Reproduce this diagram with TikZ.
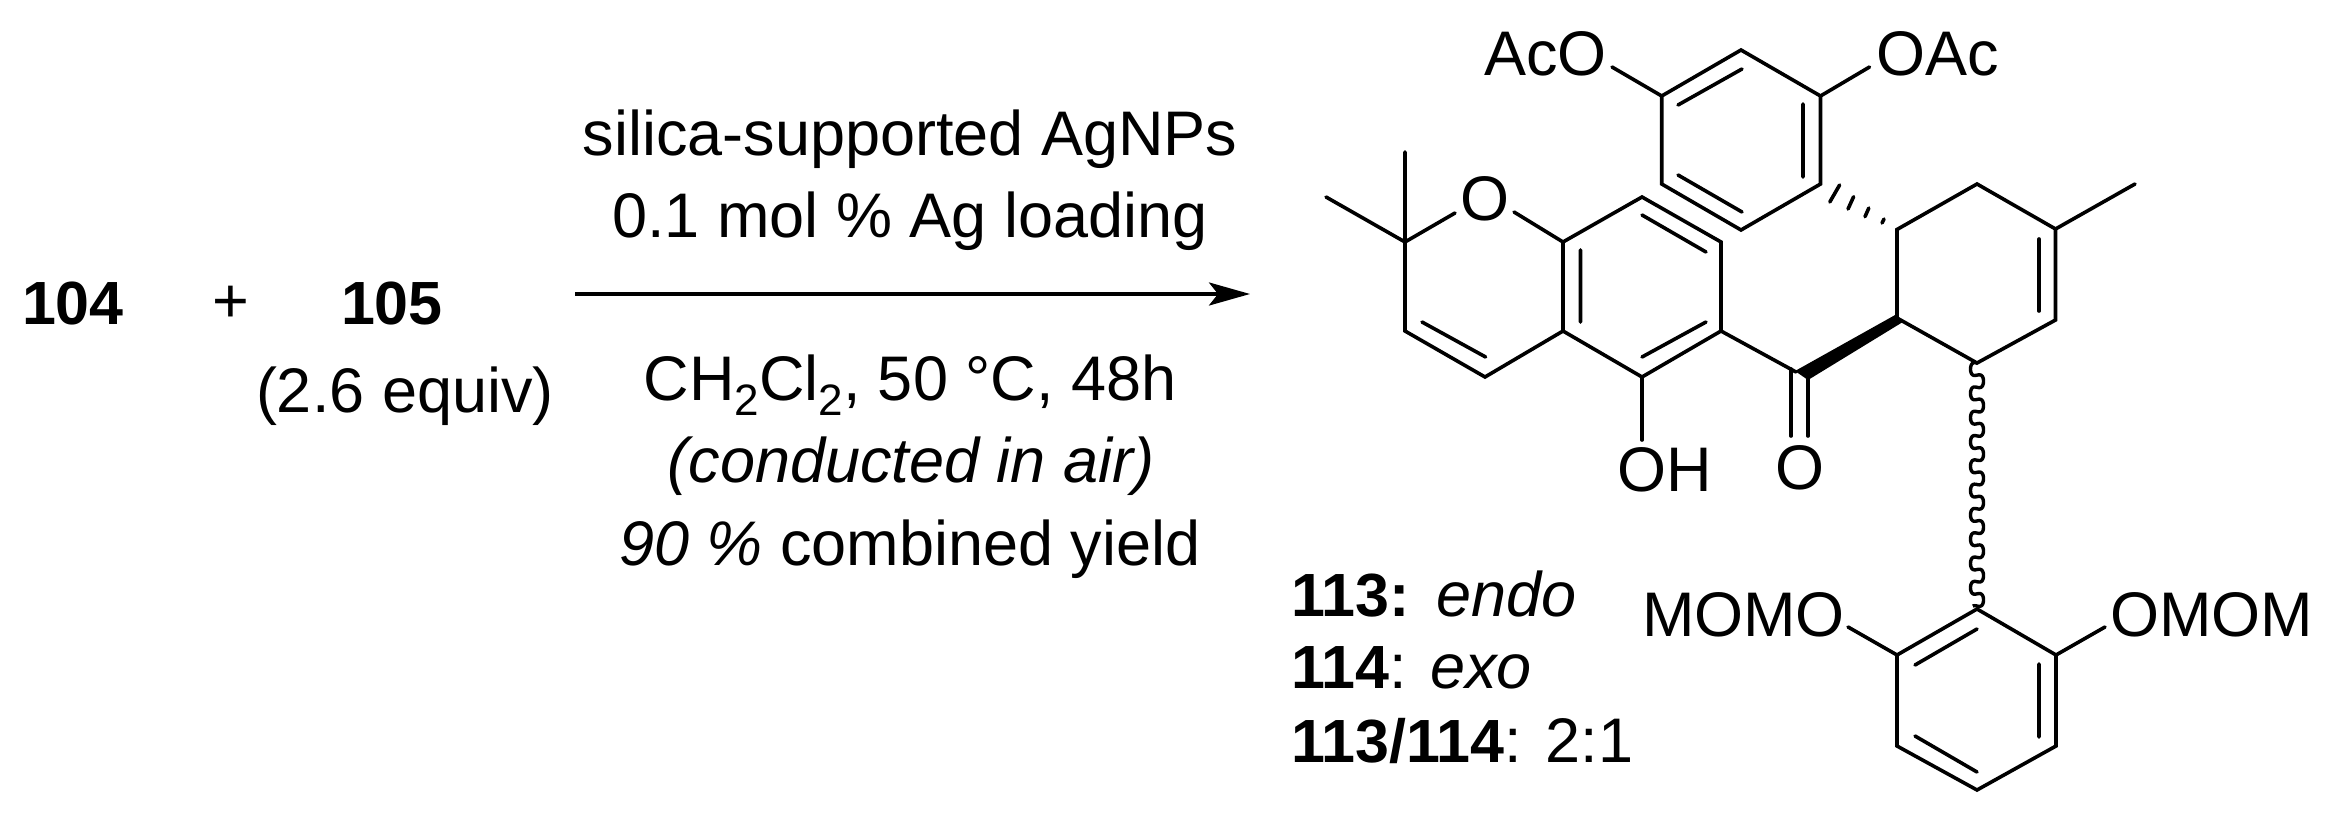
\documentclass[tikz,border=0pt]{standalone}
\usepackage{fontspec}
\setmainfont{Liberation Sans}
\usetikzlibrary{arrows.meta}
\newcommand{\subtwo}{\raisebox{-15pt}{\fontsize{44}{44}\selectfont 2}}
\newcommand{\bfl}[1]{{\fontsize{61}{61}\selectfont\bfseries #1}}
\tikzset{
  txt/.style={inner sep=0pt,outer sep=0pt,anchor=base west,font=\fontsize{63}{63}\selectfont},
  ctr/.style={inner sep=0pt,outer sep=0pt,anchor=base,font=\fontsize{63}{63}\selectfont},
  bond/.style={line width=3.6pt,line join=miter,line cap=round,black},
  hashb/.style={line width=3.6pt,line cap=round,black},
  rarrow/.style={line width=3.6pt,-{Stealth[length=41pt,width=23pt,inset=9pt]}}
}
\begin{document}
\begin{tikzpicture}[x=1pt,y=-1pt]
\useasboundingbox[fill=white] (0,0) rectangle (2334,816);
% left side text
\node[txt] (n104) at (22,324) {\bfl{104}};
\node[ctr] (plus) at (231,322) {+};
\node[txt] (n105) at (341,324) {\bfl{105}};
\node[txt] (equiv) at (256,412) {(2.6 equiv)};
% conditions
\node[ctr] (c1) at (910,155) {silica-supported AgNPs};
\node[ctr] (c2) at (910,237) {0.1 mol \% Ag loading};
\node[ctr] (c3) at (910,400) {CH\subtwo Cl\subtwo, 50 °C, 48h};
\node[ctr] (c4) at (911,482) {\itshape (conducted in air)};
\node[ctr] (c5) at (910,565) {\textit{90 \%} combined yield};
\coordinate (ar1) at (575,294);
\coordinate (ar2) at (1250,294);
\draw[rarrow] (ar1) -- (ar2);
% atom labels
\node[txt] (AcO) at (1484,75) {AcO};
\node[txt] (OAc) at (1876,75) {OAc};
\node[ctr,anchor=center] (Opyr) at (1485,198.5) {O};
\node[ctr] (OH) at (1665,491) {OH};
\node[ctr,anchor=center] (Ocarb) at (1799.5,467.5) {O};
\node[txt] (MOMO) at (1642,636) {MOMO};
\node[txt] (OMOM) at (2110,636) {OMOM};
% product labels
\node[txt] (l113) at (1291,616) {\bfl{113:}};
\node[txt,font=\fontsize{63}{63}\selectfont\itshape] (lendo) at (1436,616) {endo};
\node[txt] (l114) at (1291,688) {\bfl{114}: \textit{exo}};
\node[txt] (l2) at (1291,762) {\bfl{113/114}: 2:1};
% upper aryl ring
\coordinate (a1) at (1661.7,96);
\coordinate (a2) at (1741,50);
\coordinate (a3) at (1820.5,96);
\coordinate (a4) at (1820.5,184);
\coordinate (a5) at (1741,230);
\coordinate (a6) at (1661.7,184);
\draw[bond] (a1) -- (a2) -- (a3) -- (a4) -- (a5) -- (a6) -- cycle;
\coordinate (ai1) at (1678,105); \coordinate (ai2) at (1742,69);
\coordinate (ai3) at (1803,104); \coordinate (ai4) at (1803,177);
\coordinate (ai5) at (1678,175); \coordinate (ai6) at (1742,212);
\draw[bond] (ai1) -- (ai2) (ai3) -- (ai4) (ai5) -- (ai6);
\coordinate (ao1) at (1612,67); \coordinate (ao2) at (1869.5,67);
\draw[bond] (ao1) -- (a1) (ao2) -- (a3);
% chromene
\coordinate (c2a) at (1405,242);
\coordinate (me1) at (1405,152);
\coordinate (me2) at (1326,197);
\coordinate (o1) at (1455,213);
\coordinate (o2) at (1514,212);
\coordinate (c8a) at (1563,242);
\coordinate (c8) at (1642,197);
\coordinate (c7) at (1721,242);
\coordinate (c6) at (1721,331);
\coordinate (c5a) at (1642,377);
\coordinate (c4a) at (1563,331);
\coordinate (c4b) at (1485,377);
\coordinate (c3a) at (1405,331);
\draw[bond] (c8a) -- (c8) -- (c7) -- (c6) -- (c5a) -- (c4a) -- cycle;
\draw[bond] (o2) -- (c8a);
\draw[bond] (o1) -- (c2a) -- (c3a) -- (c4b) -- (c4a);
\draw[bond] (me1) -- (c2a) -- (me2);
\coordinate (ci1) at (1580.5,250); \coordinate (ci2) at (1580.5,322);
\coordinate (ci3) at (1642,215); \coordinate (ci4) at (1706,252);
\coordinate (ci5) at (1642,357); \coordinate (ci6) at (1706,322);
\coordinate (ci7) at (1422,322); \coordinate (ci8) at (1485.6,357);
\draw[bond] (ci1) -- (ci2) (ci3) -- (ci4) (ci5) -- (ci6) (ci7) -- (ci8);
\coordinate (oh) at (1642,440);
\draw[bond] (c5a) -- (oh);
% carbonyl
\coordinate (co) at (1796,372);
\coordinate (cw) at (1808,379);
\coordinate (co1) at (1791,436);
\coordinate (co2) at (1808,436);
\coordinate (co3) at (1791,369);
\draw[bond] (c6) -- (co);
\draw[bond] (co3) -- (co1);
\draw[bond] (cw) -- (co2);
% cyclohexene
\coordinate (h1) at (1897,229.5);
\coordinate (h2) at (1897,318);
\coordinate (h3) at (1977,363);
\coordinate (h4) at (2055.5,320);
\coordinate (h5) at (2055.5,229);
\coordinate (h6) at (1977,184);
\coordinate (hm) at (2135,184);
\draw[bond] (h1) -- (h2) -- (h3) -- (h4) -- (h5) -- (h6) -- cycle;
\draw[bond] (h5) -- (hm);
\coordinate (hi1) at (2039,239); \coordinate (hi2) at (2039,311);
\draw[bond] (hi1) -- (hi2);
% bold wedge
\coordinate (w1) at (1896,314.5);
\coordinate (w2) at (1902,322.5);
\coordinate (w3) at (1808,380);
\coordinate (w4) at (1795,371);
\fill[black] (w1) -- (w2) -- (w3) -- (w4) -- cycle;
% hashed bond
\draw[hashb] (1839.6,185) -- (1829.8,202);
\draw[hashb] (1853.6,196.7) -- (1848,209);
\draw[hashb] (1868.8,208) -- (1865,216.7);
\draw[hashb] (1884,219) -- (1882,223);
% wavy bond
\draw[line width=3.4pt,black] plot[samples=500,domain=0:3640]
  ({1977-6.5*sin(\x)},{363+\x/360*24.3-2.6*sin(2*\x)});
% lower aryl ring
\coordinate (b1) at (1977,609);
\coordinate (b2) at (2056,655);
\coordinate (b3) at (2056,746);
\coordinate (b4) at (1977,790);
\coordinate (b5) at (1897,746);
\coordinate (b6) at (1897,655);
\draw[bond] (b1) -- (b2) -- (b3) -- (b4) -- (b5) -- (b6) -- cycle;
\coordinate (bi1) at (1915,665); \coordinate (bi2) at (1977,629);
\coordinate (bi3) at (2039,664); \coordinate (bi4) at (2039,737);
\coordinate (bi5) at (1915,736); \coordinate (bi6) at (1977,772);
\draw[bond] (bi1) -- (bi2) (bi3) -- (bi4) (bi5) -- (bi6);
\coordinate (bo1) at (1848,627); \coordinate (bo2) at (2105,627);
\draw[bond] (bo1) -- (b6) (bo2) -- (b2);
\end{tikzpicture}
\end{document}
